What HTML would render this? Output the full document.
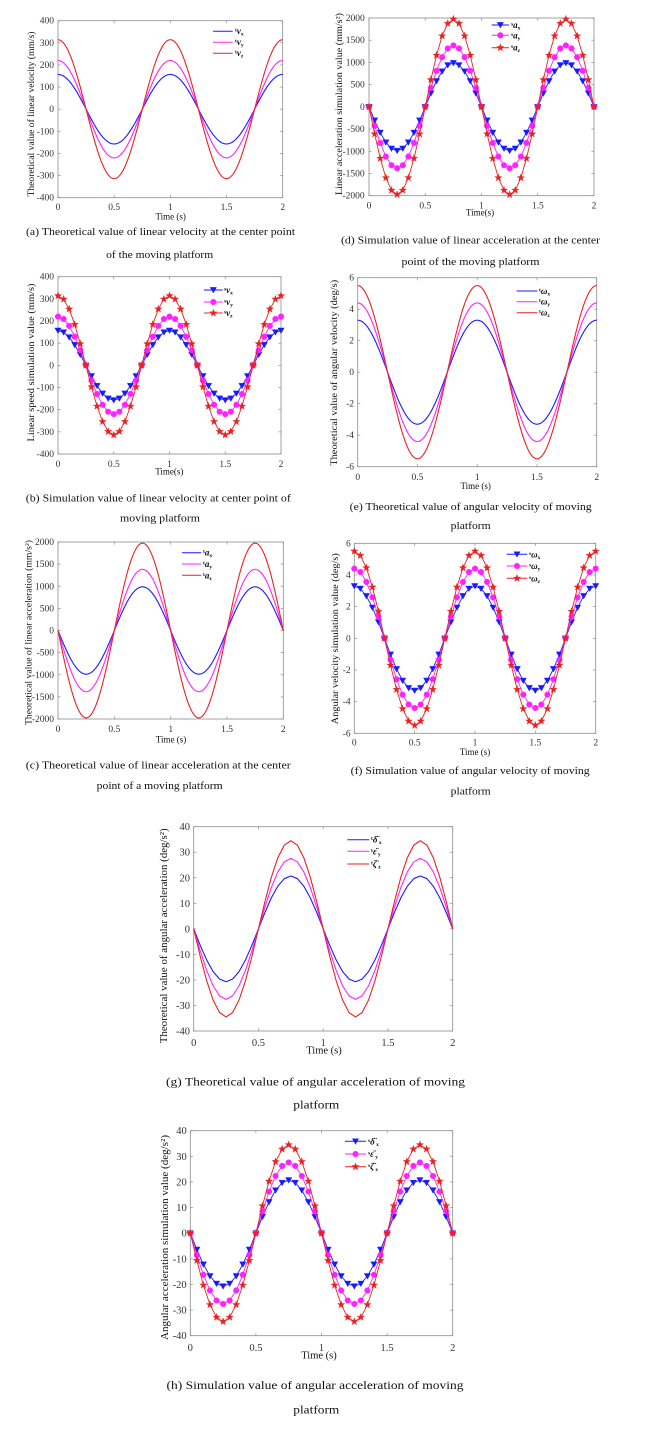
<!DOCTYPE html>
<html>
<head>
<meta charset="utf-8">
<style>
html,body{margin:0;padding:0;background:#fff;}
svg{display:block;}
text{font-family:"Liberation Serif","DejaVu Serif",serif;fill:#222;}
.tk{font-size:9.5px;text-anchor:end;fill:#333;}
.tx{font-size:9.5px;text-anchor:middle;fill:#333;}
.tk2{font-size:10.5px;text-anchor:end;fill:#333;}
.tx2{font-size:10.5px;text-anchor:middle;fill:#333;}
.yl{font-size:9px;text-anchor:middle;fill:#111;}
.yl2{font-size:10.5px;text-anchor:middle;fill:#111;}
.xl{font-size:9px;text-anchor:middle;fill:#111;}
.xl2{font-size:10.5px;text-anchor:middle;fill:#111;}
.cap{font-size:10.5px;text-anchor:middle;fill:#111;}
.cap2{font-size:12px;text-anchor:middle;fill:#111;}
.lg{font-size:9px;fill:#111;font-weight:bold;}
.sm{font-size:5.5px;}
</style>
</head>
<body>
<svg id="c" width="648" height="1444" viewBox="0 0 648 1444" xmlns="http://www.w3.org/2000/svg">
<rect x="0" y="0" width="648" height="1444" fill="#fff"/>
<g id="plots"></g>

<!-- ===== (a) ===== -->
<text class="tk" x="54" y="23.7">400</text>
<text class="tk" x="54" y="45.8">300</text>
<text class="tk" x="54" y="68">200</text>
<text class="tk" x="54" y="90.1">100</text>
<text class="tk" x="54" y="112.2">0</text>
<text class="tk" x="54" y="134.3">-100</text>
<text class="tk" x="54" y="156.5">-200</text>
<text class="tk" x="54" y="178.6">-300</text>
<text class="tk" x="54" y="200.7">-400</text>
<text class="tx" x="58" y="210">0</text>
<text class="tx" x="114.2" y="210">0.5</text>
<text class="tx" x="170.4" y="210">1</text>
<text class="tx" x="226.5" y="210">1.5</text>
<text class="tx" x="282.7" y="210">2</text>
<text class="xl" x="170.7" y="219.5">Time (s)</text>
<text class="yl" transform="translate(34,114) rotate(-90)" textLength="165" lengthAdjust="spacingAndGlyphs">Theoretical value of linear velocity (mm/s)</text>
<text class="lg" x="235" y="34"><tspan class="sm" dy="-2.5">t</tspan><tspan dy="2.5" font-style="italic">v</tspan><tspan class="sm" dy="1.5">x</tspan></text>
<text class="lg" x="235" y="45"><tspan class="sm" dy="-2.5">t</tspan><tspan dy="2.5" font-style="italic">v</tspan><tspan class="sm" dy="1.5">y</tspan></text>
<text class="lg" x="235" y="56"><tspan class="sm" dy="-2.5">t</tspan><tspan dy="2.5" font-style="italic">v</tspan><tspan class="sm" dy="1.5">z</tspan></text>
<text class="cap" x="160.5" y="235" textLength="269" lengthAdjust="spacingAndGlyphs">(a) Theoretical value of linear velocity at the center point</text>
<text class="cap" x="159.7" y="258" textLength="107" lengthAdjust="spacingAndGlyphs">of the moving platform</text>

<!-- ===== (b) ===== -->
<text class="tk" x="54" y="279.7">400</text>
<text class="tk" x="54" y="301.9">300</text>
<text class="tk" x="54" y="324">200</text>
<text class="tk" x="54" y="346.2">100</text>
<text class="tk" x="54" y="368.4">0</text>
<text class="tk" x="54" y="390.5">-100</text>
<text class="tk" x="54" y="412.7">-200</text>
<text class="tk" x="54" y="434.8">-300</text>
<text class="tk" x="54" y="457">-400</text>
<text class="tx" x="58" y="467">0</text>
<text class="tx" x="113.75" y="467">0.5</text>
<text class="tx" x="169.5" y="467">1</text>
<text class="tx" x="225.25" y="467">1.5</text>
<text class="tx" x="281" y="467">2</text>
<text class="xl" x="169.3" y="474.5">Time(s)</text>
<text class="yl" transform="translate(34,362.5) rotate(-90)" textLength="158" lengthAdjust="spacingAndGlyphs">Linear speed simulation value (mm/s)</text>
<text class="lg" x="224" y="293"><tspan class="sm" dy="-2.5">s</tspan><tspan dy="2.5" font-style="italic">v</tspan><tspan class="sm" dy="1.5">x</tspan></text>
<text class="lg" x="224" y="305"><tspan class="sm" dy="-2.5">s</tspan><tspan dy="2.5" font-style="italic">v</tspan><tspan class="sm" dy="1.5">y</tspan></text>
<text class="lg" x="224" y="316"><tspan class="sm" dy="-2.5">s</tspan><tspan dy="2.5" font-style="italic">v</tspan><tspan class="sm" dy="1.5">z</tspan></text>
<text class="cap" x="158.3" y="501.7" textLength="265" lengthAdjust="spacingAndGlyphs">(b) Simulation value of linear velocity at center point of</text>
<text class="cap" x="160" y="521.7" textLength="80" lengthAdjust="spacingAndGlyphs">moving platform</text>

<!-- ===== (c) ===== -->
<text class="tk" x="54" y="545">2000</text>
<text class="tk" x="54" y="567.1">1500</text>
<text class="tk" x="54" y="589.3">1000</text>
<text class="tk" x="54" y="611.4">500</text>
<text class="tk" x="54" y="633.5">0</text>
<text class="tk" x="54" y="655.6">-500</text>
<text class="tk" x="54" y="677.8">-1000</text>
<text class="tk" x="54" y="699.9">-1500</text>
<text class="tk" x="54" y="722">-2000</text>
<text class="tx" x="58" y="732">0</text>
<text class="tx" x="114.3" y="732">0.5</text>
<text class="tx" x="170.7" y="732">1</text>
<text class="tx" x="227" y="732">1.5</text>
<text class="tx" x="283.3" y="732">2</text>
<text class="xl" x="171" y="742.5">Time (s)</text>
<text class="yl" transform="translate(31.3,632.5) rotate(-90)" textLength="185" lengthAdjust="spacingAndGlyphs">Theoretical value of linear acceleration (mm/s²)</text>
<text class="lg" x="203" y="555.7"><tspan class="sm" dy="-2.5">t</tspan><tspan dy="2.5" font-style="italic">a</tspan><tspan class="sm" dy="1.5">x</tspan></text>
<text class="lg" x="203" y="567"><tspan class="sm" dy="-2.5">t</tspan><tspan dy="2.5" font-style="italic">a</tspan><tspan class="sm" dy="1.5">y</tspan></text>
<text class="lg" x="203" y="578.3"><tspan class="sm" dy="-2.5">t</tspan><tspan dy="2.5" font-style="italic">a</tspan><tspan class="sm" dy="1.5">z</tspan></text>
<text class="cap" x="158.3" y="768.3" textLength="265" lengthAdjust="spacingAndGlyphs">(c) Theoretical value of linear acceleration at the center</text>
<text class="cap" x="159.7" y="789" textLength="126" lengthAdjust="spacingAndGlyphs">point of a moving platform</text>

<!-- ===== (d) ===== -->
<text class="tk" x="364.7" y="21">2000</text>
<text class="tk" x="364.7" y="43.2">1500</text>
<text class="tk" x="364.7" y="65.4">1000</text>
<text class="tk" x="364.7" y="87.6">500</text>
<text class="tk" x="364.7" y="109.9">0</text>
<text class="tk" x="364.7" y="132.1">-500</text>
<text class="tk" x="364.7" y="154.3">-1000</text>
<text class="tk" x="364.7" y="176.5">-1500</text>
<text class="tk" x="364.7" y="198.7">-2000</text>
<text class="tx" x="369" y="208.5">0</text>
<text class="tx" x="425.25" y="208.5">0.5</text>
<text class="tx" x="481.5" y="208.5">1</text>
<text class="tx" x="537.75" y="208.5">1.5</text>
<text class="tx" x="594" y="208.5">2</text>
<text class="xl" x="480" y="215.5">Time(s)</text>
<text class="yl" transform="translate(342,104) rotate(-90)" textLength="182" lengthAdjust="spacingAndGlyphs">Linear acceleration simulation value (mm/s²)</text>
<text class="lg" x="511" y="28"><tspan class="sm" dy="-2.5">s</tspan><tspan dy="2.5" font-style="italic">a</tspan><tspan class="sm" dy="1.5">x</tspan></text>
<text class="lg" x="511" y="38.3"><tspan class="sm" dy="-2.5">s</tspan><tspan dy="2.5" font-style="italic">a</tspan><tspan class="sm" dy="1.5">y</tspan></text>
<text class="lg" x="511" y="50.7"><tspan class="sm" dy="-2.5">s</tspan><tspan dy="2.5" font-style="italic">a</tspan><tspan class="sm" dy="1.5">z</tspan></text>
<text class="cap" x="470.5" y="243.5" textLength="259" lengthAdjust="spacingAndGlyphs">(d) Simulation value of linear acceleration at the center</text>
<text class="cap" x="470.5" y="265" textLength="138" lengthAdjust="spacingAndGlyphs">point of the moving platform</text>

<!-- ===== (e) ===== -->
<text class="tk" x="354" y="280.7">6</text>
<text class="tk" x="354" y="312.2">4</text>
<text class="tk" x="354" y="343.7">2</text>
<text class="tk" x="354" y="375.2">0</text>
<text class="tk" x="354" y="406.7">-2</text>
<text class="tk" x="354" y="438.2">-4</text>
<text class="tk" x="354" y="469.7">-6</text>
<text class="tx" x="357.7" y="479.8">0</text>
<text class="tx" x="417.45" y="479.8">0.5</text>
<text class="tx" x="477.2" y="479.8">1</text>
<text class="tx" x="536.95" y="479.8">1.5</text>
<text class="tx" x="596.7" y="479.8">2</text>
<text class="xl" x="475.7" y="489">Time (s)</text>
<text class="yl" transform="translate(337,372.8) rotate(-90)" textLength="186" lengthAdjust="spacingAndGlyphs">Theoretical value of angular velocity (deg/s)</text>
<text class="lg" x="539" y="294"><tspan class="sm" dy="-2.5">t</tspan><tspan dy="2.5" font-style="italic">ω</tspan><tspan class="sm" dy="1.5">x</tspan></text>
<text class="lg" x="539" y="304.7"><tspan class="sm" dy="-2.5">t</tspan><tspan dy="2.5" font-style="italic">ω</tspan><tspan class="sm" dy="1.5">y</tspan></text>
<text class="lg" x="539" y="315.7"><tspan class="sm" dy="-2.5">t</tspan><tspan dy="2.5" font-style="italic">ω</tspan><tspan class="sm" dy="1.5">z</tspan></text>
<text class="cap" x="470.7" y="510" textLength="242" lengthAdjust="spacingAndGlyphs">(e) Theoretical value of angular velocity of moving</text>
<text class="cap" x="470.7" y="529" textLength="40" lengthAdjust="spacingAndGlyphs">platform</text>

<!-- ===== (f) ===== -->
<text class="tk" x="350.7" y="546.3">6</text>
<text class="tk" x="350.7" y="578">4</text>
<text class="tk" x="350.7" y="609.6">2</text>
<text class="tk" x="350.7" y="641.3">0</text>
<text class="tk" x="350.7" y="673">-2</text>
<text class="tk" x="350.7" y="704.6">-4</text>
<text class="tk" x="350.7" y="736.3">-6</text>
<text class="tx" x="354.3" y="745.6">0</text>
<text class="tx" x="414.65" y="745.6">0.5</text>
<text class="tx" x="475" y="745.6">1</text>
<text class="tx" x="535.35" y="745.6">1.5</text>
<text class="tx" x="595.7" y="745.6">2</text>
<text class="xl" x="475" y="755">Time (s)</text>
<text class="yl" transform="translate(338,638.7) rotate(-90)" textLength="171" lengthAdjust="spacingAndGlyphs">Angular velocity simulation value (deg/s)</text>
<text class="lg" x="529" y="557.3"><tspan class="sm" dy="-2.5">s</tspan><tspan dy="2.5" font-style="italic">ω</tspan><tspan class="sm" dy="1.5">x</tspan></text>
<text class="lg" x="529" y="569"><tspan class="sm" dy="-2.5">s</tspan><tspan dy="2.5" font-style="italic">ω</tspan><tspan class="sm" dy="1.5">y</tspan></text>
<text class="lg" x="529" y="581.3"><tspan class="sm" dy="-2.5">s</tspan><tspan dy="2.5" font-style="italic">ω</tspan><tspan class="sm" dy="1.5">z</tspan></text>
<text class="cap" x="470.2" y="774" textLength="239" lengthAdjust="spacingAndGlyphs">(f) Simulation value of angular velocity of moving</text>
<text class="cap" x="470.7" y="794.7" textLength="40" lengthAdjust="spacingAndGlyphs">platform</text>

<!-- ===== (g) ===== -->
<text class="tk2" x="190" y="830.2">40</text>
<text class="tk2" x="190" y="855.7">30</text>
<text class="tk2" x="190" y="881.3">20</text>
<text class="tk2" x="190" y="906.8">10</text>
<text class="tk2" x="190" y="932.4">0</text>
<text class="tk2" x="190" y="957.9">-10</text>
<text class="tk2" x="190" y="983.4">-20</text>
<text class="tk2" x="190" y="1009">-30</text>
<text class="tk2" x="190" y="1034.5">-40</text>
<text class="tx2" x="193.7" y="1046">0</text>
<text class="tx2" x="258.45" y="1046">0.5</text>
<text class="tx2" x="323.2" y="1046">1</text>
<text class="tx2" x="387.95" y="1046">1.5</text>
<text class="tx2" x="452.7" y="1046">2</text>
<text class="xl2" x="324" y="1053.5">Time (s)</text>
<text class="yl2" transform="translate(167,935.8) rotate(-90)" textLength="215" lengthAdjust="spacingAndGlyphs">Theoretical value of angular acceleration (deg/s²)</text>
<text class="lg" x="371" y="842.7"><tspan class="sm" dy="-2.5">t</tspan><tspan dy="2.5" font-style="italic">δ̈</tspan><tspan class="sm" dy="1.5"> x</tspan></text>
<text class="lg" x="371" y="854.3"><tspan class="sm" dy="-2.5">t</tspan><tspan dy="2.5" font-style="italic">ε̈</tspan><tspan class="sm" dy="1.5"> y</tspan></text>
<text class="lg" x="371" y="867"><tspan class="sm" dy="-2.5">t</tspan><tspan dy="2.5" font-style="italic">ζ̈</tspan><tspan class="sm" dy="1.5"> z</tspan></text>
<text class="cap2" x="315.5" y="1085.7" textLength="299" lengthAdjust="spacingAndGlyphs">(g) Theoretical value of angular acceleration of moving</text>
<text class="cap2" x="316.3" y="1108.3" textLength="46" lengthAdjust="spacingAndGlyphs">platform</text>

<!-- ===== (h) ===== -->
<text class="tk2" x="186.7" y="1134.2">40</text>
<text class="tk2" x="186.7" y="1159.8">30</text>
<text class="tk2" x="186.7" y="1185.5">20</text>
<text class="tk2" x="186.7" y="1211.1">10</text>
<text class="tk2" x="186.7" y="1236.7">0</text>
<text class="tk2" x="186.7" y="1262.3">-10</text>
<text class="tk2" x="186.7" y="1288">-20</text>
<text class="tk2" x="186.7" y="1313.6">-30</text>
<text class="tk2" x="186.7" y="1339.2">-40</text>
<text class="tx2" x="190.3" y="1351">0</text>
<text class="tx2" x="255.9" y="1351">0.5</text>
<text class="tx2" x="321.5" y="1351">1</text>
<text class="tx2" x="387.1" y="1351">1.5</text>
<text class="tx2" x="452.7" y="1351">2</text>
<text class="xl2" x="319" y="1358.5">Time (s)</text>
<text class="yl2" transform="translate(168,1237.5) rotate(-90)" textLength="205" lengthAdjust="spacingAndGlyphs">Angular acceleration simulation value (deg/s²)</text>
<text class="lg" x="368" y="1144.3"><tspan class="sm" dy="-2.5">s</tspan><tspan dy="2.5" font-style="italic">δ̈</tspan><tspan class="sm" dy="1.5"> x</tspan></text>
<text class="lg" x="368" y="1157"><tspan class="sm" dy="-2.5">s</tspan><tspan dy="2.5" font-style="italic">ε̈</tspan><tspan class="sm" dy="1.5"> y</tspan></text>
<text class="lg" x="368" y="1169.7"><tspan class="sm" dy="-2.5">s</tspan><tspan dy="2.5" font-style="italic">ζ̈</tspan><tspan class="sm" dy="1.5"> z</tspan></text>
<text class="cap2" x="315" y="1389" textLength="297" lengthAdjust="spacingAndGlyphs">(h) Simulation value of angular acceleration of moving</text>
<text class="cap2" x="316.3" y="1413.3" textLength="46" lengthAdjust="spacingAndGlyphs">platform</text>
</svg>

<script>
(function(){
var NS='http://www.w3.org/2000/svg';
var root=document.getElementById('plots');
function el(tag,attrs,parent){var e=document.createElementNS(NS,tag);for(var k in attrs)e.setAttribute(k,attrs[k]);(parent||root).appendChild(e);return e;}
var C=['#1a1aff','#ff22ff','#e82222'];
var P=[
 {x0:58,x1:282.7,y0:20.7,y1:197.7,ymin:-400,ymax:400,step:100,A:[157,220,314],f:'c',m:'line',lx:[213,232.7],ly:[31.3,42.3,53.3]},
 {x0:58,x1:281,y0:276.7,y1:454,ymin:-400,ymax:400,step:100,A:[157,220,314],f:'c',m:'mark',lx:[204,222.7],ly:[290,302,313]},
 {x0:58,x1:283.3,y0:542,y1:719,ymin:-2000,ymax:2000,step:500,A:[987,1382,1974],f:'s',m:'line',lx:[182,201.3],ly:[552.7,564,575.3]},
 {x0:369,x1:594,y0:18,y1:195.7,ymin:-2000,ymax:2000,step:500,A:[987,1382,1974],f:'s',m:'mark',lx:[491.7,509],ly:[25,35.3,47.7]},
 {x0:357.7,x1:596.7,y0:277.7,y1:466.7,ymin:-6,ymax:6,step:2,A:[3.3,4.4,5.5],f:'c',m:'line',lx:[516.7,537.3],ly:[291,301.7,312.7]},
 {x0:354.3,x1:595.7,y0:543.3,y1:733.3,ymin:-6,ymax:6,step:2,A:[3.3,4.4,5.5],f:'c',m:'mark',lx:[506.7,527.3],ly:[554.3,566,578.3]},
 {x0:193.7,x1:452.7,y0:826.7,y1:1031,ymin:-40,ymax:40,step:10,A:[20.7,27.6,34.5],f:'s',m:'poly',lx:[347.3,369.3],ly:[839.7,851.3,864]},
 {x0:190.3,x1:452.7,y0:1130.7,y1:1335.7,ymin:-40,ymax:40,step:10,A:[20.7,27.6,34.5],f:'s',m:'mark',lx:[345,366],ly:[1141.3,1154,1166.7]}
];
function marker(k,x,y,g){
  var c=C[k];
  if(k===0){
    el('polygon',{points:(x-3.2)+','+(y-2.6)+' '+(x+3.2)+','+(y-2.6)+' '+x+','+(y+3.0),fill:c,stroke:c,'stroke-width':0.4},g);
  }else if(k===1){
    el('circle',{cx:x,cy:y,r:2.9,fill:c,stroke:c,'stroke-width':0.3},g);
  }else{
    var pts=[],R=3.9,r=1.6;
    for(var i=0;i<10;i++){var a=-Math.PI/2+i*Math.PI/5;var rr=(i%2===0)?R:r;pts.push((x+rr*Math.cos(a)).toFixed(2)+','+(y+rr*Math.sin(a)).toFixed(2));}
    el('polygon',{points:pts.join(' '),fill:c,stroke:c,'stroke-width':0.3},g);
  }
}
P.forEach(function(p){
  var g=el('g',{});
  var W=p.x1-p.x0,H=p.y1-p.y0;
  function X(t){return p.x0+t/2*W;}
  function Y(v){return p.y0+(p.ymax-v)/(p.ymax-p.ymin)*H;}
  el('rect',{x:p.x0,y:p.y0,width:W,height:H,fill:'none',stroke:'#8c8c8c','stroke-width':0.8},g);
  var tl=2.6;
  for(var t=0;t<=2.0001;t+=0.5){
    var x=X(t);
    el('line',{x1:x,y1:p.y1,x2:x,y2:p.y1-tl,stroke:'#8c8c8c','stroke-width':0.7},g);
    el('line',{x1:x,y1:p.y0,x2:x,y2:p.y0+tl,stroke:'#8c8c8c','stroke-width':0.7},g);
  }
  for(var v=p.ymin;v<=p.ymax+1e-9;v+=p.step){
    var y=Y(v);
    el('line',{x1:p.x0,y1:y,x2:p.x0+tl,y2:y,stroke:'#8c8c8c','stroke-width':0.7},g);
    el('line',{x1:p.x1,y1:y,x2:p.x1-tl,y2:y,stroke:'#8c8c8c','stroke-width':0.7},g);
  }
  var dt=(p.m==='line')?0.005:0.05;
  var n=Math.round(2/dt);
  for(var k=0;k<3;k++){
    var A=p.A[k],d='';
    var pts=[];
    for(var i=0;i<=n;i++){
      var tt=i*dt;
      var val=(p.f==='c')?A*Math.cos(2*Math.PI*tt):-A*Math.sin(2*Math.PI*tt);
      var px=X(tt),py=Y(val);
      pts.push([px,py]);
      d+=(i?'L':'M')+px.toFixed(2)+' '+py.toFixed(2);
    }
    el('path',{d:d,fill:'none',stroke:C[k],'stroke-width':(p.m==='mark'?0.9:1.1),'stroke-linejoin':'round'},g);
    if(p.m==='mark'){
      pts.forEach(function(q){marker(k,q[0],q[1],g);});
    }
    var ly=p.ly[k];
    el('line',{x1:p.lx[0],y1:ly,x2:p.lx[1],y2:ly,stroke:C[k],'stroke-width':1.0},g);
    if(p.m==='mark'){marker(k,(p.lx[0]+p.lx[1])/2,ly,g);}
  }
});
})();
</script>
</body>
</html>
